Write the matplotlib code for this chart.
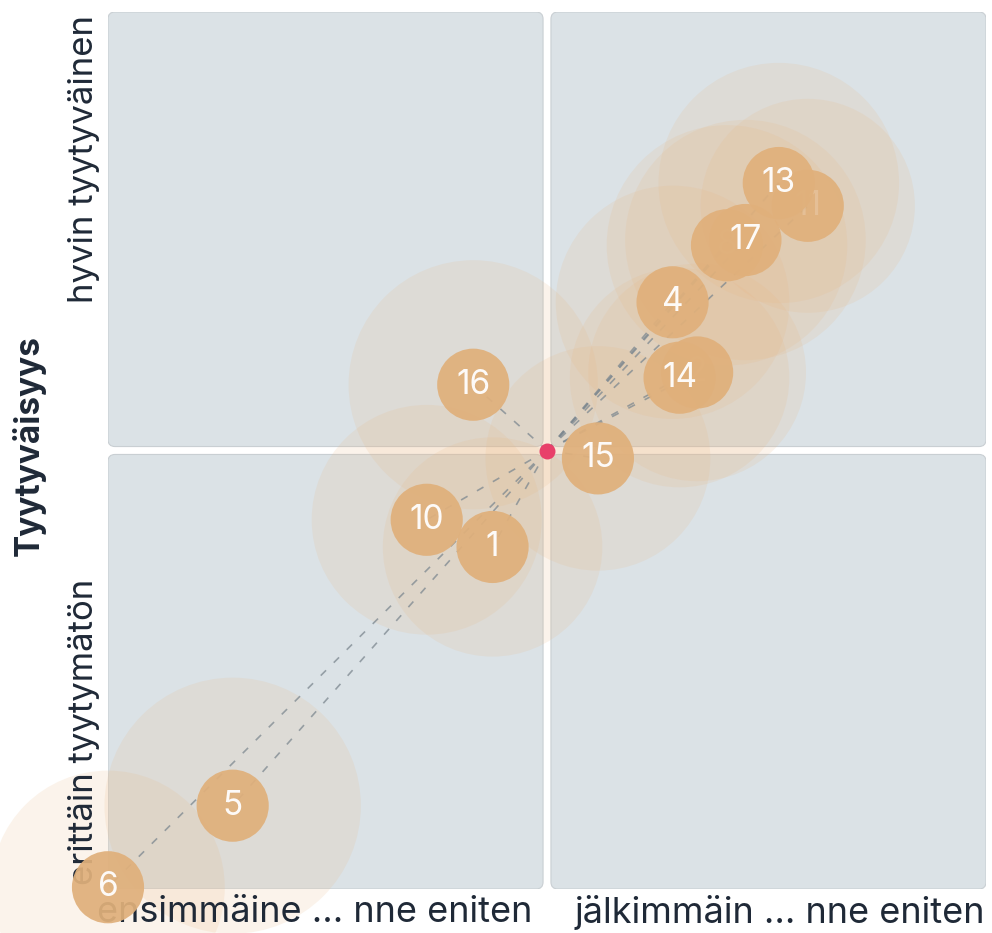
import matplotlib.pyplot as plt
from matplotlib.patches import Circle, FancyBboxPatch

plt.rcParams['font.family'] = ['Inter', 'DejaVu Sans']

# data: position on the two axes (0..1, centre = 0.5) and bubble reach
ids = ["11", "2", "8", "1", "4", "5", "6", "10", "13", "14", "15", "16", "17"]
x_val = [0.797, 0.671, 0.705, 0.438, 0.643, 0.142, 0.000, 0.363, 0.764, 0.651, 0.558, 0.416, 0.726]
y_val = [0.779, 0.589, 0.734, 0.390, 0.669, 0.095, 0.002, 0.421, 0.805, 0.583, 0.491, 0.575, 0.740]
reach = [0.122, 0.124, 0.137, 0.125, 0.133, 0.146, 0.133, 0.131, 0.137, 0.125, 0.128, 0.142, 0.137]
hidden = ["11", "2", "8"]
centre = (0.5, 0.5)

x_labels = ["ensimmäine ... nne eniten", "jälkimmäin ... nne eniten"]
y_labels = ["erittäin tyytymätön", "hyvin tyytyväinen"]
y_title = "Tyytyväisyys"

panel_col = "#dbe2e6"
bubble_col = "#e9b884"
marker_col = "#e0b07b"
text_col = "#1f2937"

fig = plt.figure(figsize=(9.92, 9.33), dpi=100)
ax = fig.add_axes([108 / 992, 44 / 933, 878 / 992, 877 / 933])
ax.set_xlim(0, 1)
ax.set_ylim(0, 1)
ax.axis("off")

# four quadrant panels
gap = 0.0045
for (x0, x1) in [(0, 0.5 - gap), (0.5 + gap, 1)]:
    for (y0, y1) in [(0, 0.5 - gap), (0.5 + gap, 1)]:
        p = FancyBboxPatch((x0, y0), x1 - x0, y1 - y0,
                           boxstyle="round,pad=0,rounding_size=0.008",
                           facecolor=panel_col, edgecolor="#c9cfd3", lw=0.8, zorder=0)
        ax.add_patch(p)

# reach bubbles
for xv, yv, r in zip(x_val, y_val, reach):
    ax.add_patch(Circle((xv, yv), r, facecolor=bubble_col, edgecolor="none",
                        alpha=0.16, zorder=1, clip_on=False))

# dashed connectors from centre
for xv, yv in zip(x_val, y_val):
    ax.plot([centre[0], xv], [centre[1], yv], ls=(0, (4.5, 6.5)), color="#7d8890",
            lw=1.2, alpha=0.75, zorder=2, clip_on=False)

# text labels (under the markers)
ax.text(-0.012, -0.027, x_labels[0], transform=ax.transAxes, ha="left", va="center",
        fontsize=26, color=text_col, zorder=3)
ax.text(0.999, -0.027, x_labels[1], transform=ax.transAxes, ha="right", va="center",
        fontsize=26, color=text_col, zorder=3)
ax.text(-0.027, 0.004, y_labels[0], transform=ax.transAxes, ha="center", va="bottom",
        rotation=90, fontsize=25, color=text_col, zorder=3)
ax.text(-0.027, 0.997, y_labels[1], transform=ax.transAxes, ha="center", va="top",
        rotation=90, fontsize=25, color=text_col, zorder=3)
ax.text(-0.090, 0.506, y_title, transform=ax.transAxes, ha="center", va="center",
        rotation=90, fontsize=24, fontweight="bold", color=text_col, zorder=3)

# markers with ids
for i, (xv, yv, lab) in enumerate(zip(x_val, y_val, ids)):
    z = 4 + i * 0.01
    ax.scatter([xv], [yv], s=2700, color=marker_col, alpha=0.93, edgecolors="none",
               zorder=z, clip_on=False)
    ax.text(xv, yv, lab, ha="center", va="center", color="white", fontsize=24,
            alpha=0.18 if lab in hidden else 0.95, zorder=z + 0.005)

ax.scatter([centre[0]], [centre[1]], s=110, color="#e8406a", zorder=10)

fig.savefig("out.png", dpi=100)
